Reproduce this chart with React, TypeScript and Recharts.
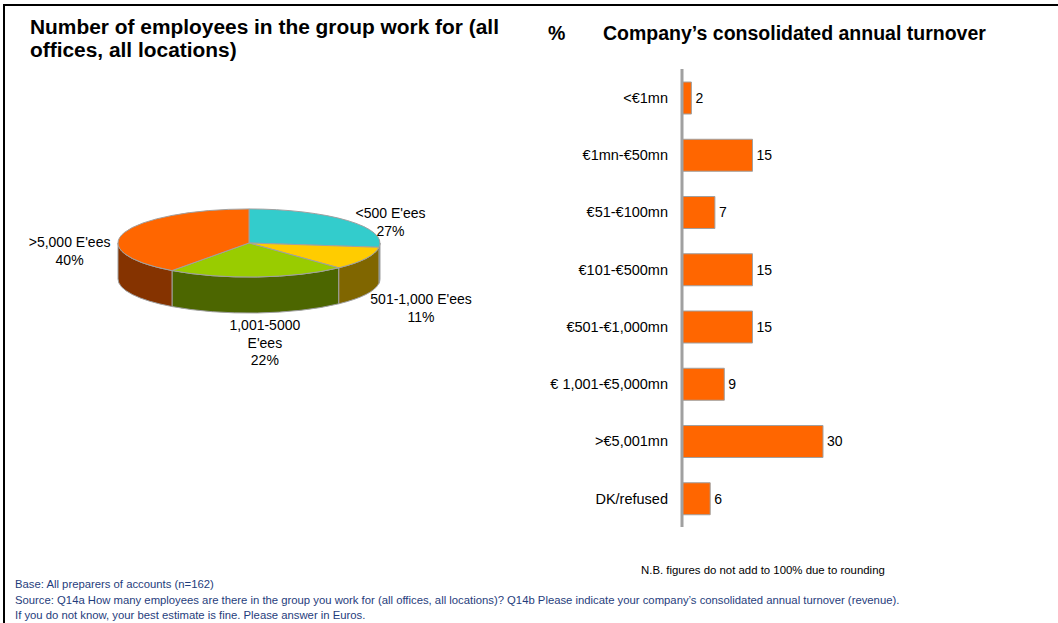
import React from 'react';
import { PieChart, Pie, Cell, BarChart, Bar, XAxis, YAxis, LabelList } from 'recharts';

// employees (pie)
const employeeBands = ["<500 E'ees", "501-1,000 E'ees", "1,001-5000 E'ees", ">5,000 E'ees"];
const employeeLabelLines = [["<500 E'ees"], ["501-1,000 E'ees"], ['1,001-5000', "E'ees"], [">5,000 E'ees"]];
const employeeShares = [27, 11, 22, 40];
const pieTopColors = ['#33CCCC', '#FFCC00', '#99CC00', '#FF6600'];
const pieSideColors = ['#1A6666', '#806600', '#4C6600', '#853300'];

// turnover (bars)
const turnoverBands = ['<€1mn', '€1mn-€50mn', '€51-€100mn', '€101-€500mn', '€501-€1,000mn', '€ 1,001-€5,000mn', '>€5,001mn', 'DK/refused'];
const turnoverShares = [2, 15, 7, 15, 15, 9, 30, 6];

const pieData = employeeBands.map((name, i) => ({ name, value: employeeShares[i], lines: employeeLabelLines[i] }));
const barData = turnoverBands.map((band, i) => ({ band, value: turnoverShares[i] }));

const FONT = '"Liberation Sans", Arial, Helvetica, sans-serif';
const RAD = Math.PI / 180;
const TILT = 0.26;
const DEPTH = 36;
const EDGE = '#A0A0A0';

// draws one slice of the tilted pie from the angles recharts computed
const renderSlice = (props: any) => {
  const { cx, cy, outerRadius, startAngle, endAngle, midAngle, index, value } = props;
  const rx = outerRadius;
  const ry = rx * TILT;
  const a = Math.max(startAngle, endAngle);
  const b = Math.min(startAngle, endAngle);
  const pt = (ang: number, dy = 0) => `${cx + rx * Math.cos(ang * RAD)},${cy - ry * Math.sin(ang * RAD) + dy}`;

  const walls: React.ReactNode[] = [];
  for (let k = -1; k <= 1; k++) {
    const hi = Math.min(a, 360 * k);
    const lo = Math.max(b, -180 + 360 * k);
    if (hi - lo > 0.01) {
      walls.push(
        <path
          key={`w${k}`}
          d={`M${pt(hi)} A${rx},${ry} 0 0 1 ${pt(lo)} L${pt(lo, DEPTH)} A${rx},${ry} 0 0 0 ${pt(hi, DEPTH)} Z`}
          fill={pieSideColors[index]}
          stroke={EDGE}
          strokeWidth={1}
        />
      );
    }
  }

  const large = a - b > 180 ? 1 : 0;
  const top = `M${cx},${cy} L${pt(a)} A${rx},${ry} 0 ${large} 1 ${pt(b)} Z`;

  const c = Math.cos(midAngle * RAD);
  const s = Math.sin(midAngle * RAD);
  const lx = cx + rx * 1.44 * c + (s < 0 ? 4 : 0);
  let ly = s >= 0 ? cy - 32 * s : cy + DEPTH + (ry + 30) * -s;
  if (Math.abs(c) > 0.93) ly += DEPTH / 2;
  const lines = [...pieData[index].lines, `${value}%`];
  const lh = 17.5;
  const y0 = ly - ((lines.length - 1) * lh) / 2;

  return (
    <g key={`slice-${index}`}>
      {walls}
      <path d={top} fill={pieTopColors[index]} stroke={EDGE} strokeWidth={1} />
      <text x={lx} textAnchor="middle" fontSize={14} fontFamily={FONT} fill="#000">
        {lines.map((t, i) => (
          <tspan key={i} x={lx} y={y0 + i * lh} dominantBaseline="central">
            {t}
          </tspan>
        ))}
      </text>
    </g>
  );
};

export default function App() {
  return (
    <div
      style={{
        position: 'absolute',
        left: 0,
        top: 0,
        width: 1058,
        height: 623,
        overflow: 'hidden',
        background: '#fff',
        fontFamily: FONT,
      }}
    >
      <div
        style={{
          position: 'absolute',
          left: 3,
          top: 4,
          width: 1070,
          height: 640,
          borderTop: '2px solid #000',
          borderLeft: '2px solid #000',
        }}
      />

      <div style={{ position: 'absolute', left: 30, top: 15, width: 520, fontSize: 20.9, fontWeight: 'bold', lineHeight: '23px', whiteSpace: 'nowrap' }}>
        Number of employees in the group work for (all
        <br />
        offices, all locations)
      </div>
      <div style={{ position: 'absolute', left: 548, top: 22, fontSize: 19.5, fontWeight: 'bold', lineHeight: '23px' }}>%</div>
      <div style={{ position: 'absolute', left: 603, top: 22, fontSize: 19.5, fontWeight: 'bold', lineHeight: '23px', whiteSpace: 'nowrap' }}>
        Company’s consolidated annual turnover
      </div>

      <div style={{ position: 'absolute', left: 0, top: 0 }}>
        <PieChart width={530} height={420} margin={{ top: 0, right: 0, bottom: 0, left: 0 }}>
          <Pie
            data={pieData}
            dataKey="value"
            nameKey="name"
            cx={249}
            cy={243}
            outerRadius={131}
            startAngle={90}
            endAngle={-270}
            stroke="none"
            label={renderSlice}
            labelLine={false}
            isAnimationActive={false}
          >
            {pieData.map((d, i) => (
              <Cell key={`cell-${i}`} fill="transparent" stroke="none" />
            ))}
          </Pie>
        </PieChart>
      </div>

      <div style={{ position: 'absolute', left: 540, top: 60 }}>
        <BarChart
          width={350}
          height={472}
          data={barData}
          layout="vertical"
          margin={{ top: 9, right: 20, bottom: 5, left: 0 }}
        >
          <XAxis type="number" domain={[0, 40]} hide />
          <YAxis
            type="category"
            dataKey="band"
            width={142}
            interval={0}
            axisLine={{ stroke: EDGE, strokeWidth: 3 }}
            tickLine={false}
            tickSize={0}
            tickMargin={14}
            tick={{ fill: '#000', fontSize: 14.5, fontFamily: FONT }}
          />
          <Bar dataKey="value" fill="#FF6600" stroke={EDGE} strokeWidth={1} barSize={32} isAnimationActive={false}>
            <LabelList dataKey="value" position="right" offset={4} fill="#000" fontSize={14} fontFamily={FONT} />
          </Bar>
        </BarChart>
      </div>

      <div style={{ position: 'absolute', left: 641, top: 564, fontSize: 11.4, color: '#000', whiteSpace: 'nowrap' }}>
        N.B. figures do not add to 100% due to rounding
      </div>
      <div style={{ position: 'absolute', left: 15, top: 577, fontSize: 11.3, lineHeight: '15.5px', color: '#1F3D7C', whiteSpace: 'nowrap' }}>
        Base: All preparers of accounts (n=162)
        <br />
        Source: Q14a How many employees are there in the group you work for (all offices, all locations)? Q14b Please indicate your company’s consolidated annual turnover (revenue).
        <br />
        If you do not know, your best estimate is fine. Please answer in Euros.
      </div>
    </div>
  );
}
